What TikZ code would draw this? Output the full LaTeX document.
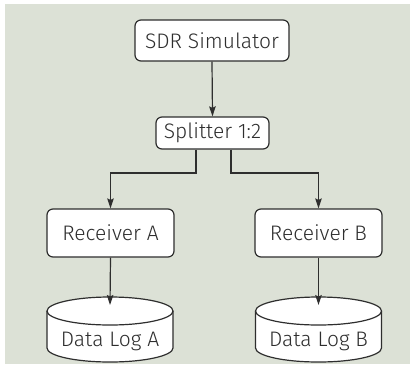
\documentclass[tikz,border=0pt]{standalone}
\usepackage{fontspec}
\setmainfont{Fira Sans Light}
\usetikzlibrary{arrows.meta}
\definecolor{panel}{HTML}{DCE1D6}
\definecolor{ink}{HTML}{2E2E2E}
\tikzset{
  box/.style={draw=ink, line width=1.2pt, fill=white, rounded corners=6pt, inner sep=0pt},
  label/.style={font=\fontsize{21}{21}\selectfont, text=ink},
  flow/.style={draw=ink, line width=1.2pt, -{Stealth[length=10pt,width=6.5pt,inset=1.5pt]}},
  drum/.style={draw=ink, line width=1.2pt, fill=white},
}
\begin{document}
\begin{tikzpicture}[x=1pt,y=-1pt]
  \useasboundingbox (0,0) rectangle (414,367);
  \fill[panel] (5,4) rectangle (410,364);

  % boxes
  \node[box, minimum width=154pt, minimum height=41pt, label] (sim) at (212,40.5) {SDR Simulator};
  \node[box, minimum width=113pt, minimum height=32pt, label] (split) at (212.5,133) {Splitter 1:2};
  \node[box, minimum width=127pt, minimum height=48pt, label] (rxa) at (110.5,233) {Receiver A};
  \node[box, minimum width=127pt, minimum height=48pt, label] (rxb) at (318.5,233) {Receiver B};

  % data log drums: body with lower rim, then top ellipse
  \foreach \cx in {110, 318.5}{
    \draw[drum] (\cx-63,311) -- (\cx-63,348)
      arc[start angle=180, end angle=360, x radius=63pt, y radius=14pt]
      -- (\cx+63,311);
    \draw[drum] (\cx,311) ellipse[x radius=63pt, y radius=14pt];
  }
  \coordinate (logatop) at (110,305);
  \coordinate (logbtop) at (318.5,305);
  \node[label] (loga) at (110,341) {Data Log A};
  \node[label] (logb) at (318.5,341) {Data Log B};

  % connectors
  \draw[flow] (sim.south) -- (split.north);
  \coordinate (sa) at ([xshift=-16.5pt]split.south);
  \coordinate (sb) at ([xshift=18.5pt]split.south);
  \draw[flow] (sa) |- (rxa.north |- 0,173) -- (rxa.north);
  \draw[flow] (sb) |- (rxb.north |- 0,173) -- (rxb.north);
  \draw[flow] (rxa.south) -- (logatop);
  \draw[flow] (rxb.south) -- (logbtop);
\end{tikzpicture}
\end{document}
